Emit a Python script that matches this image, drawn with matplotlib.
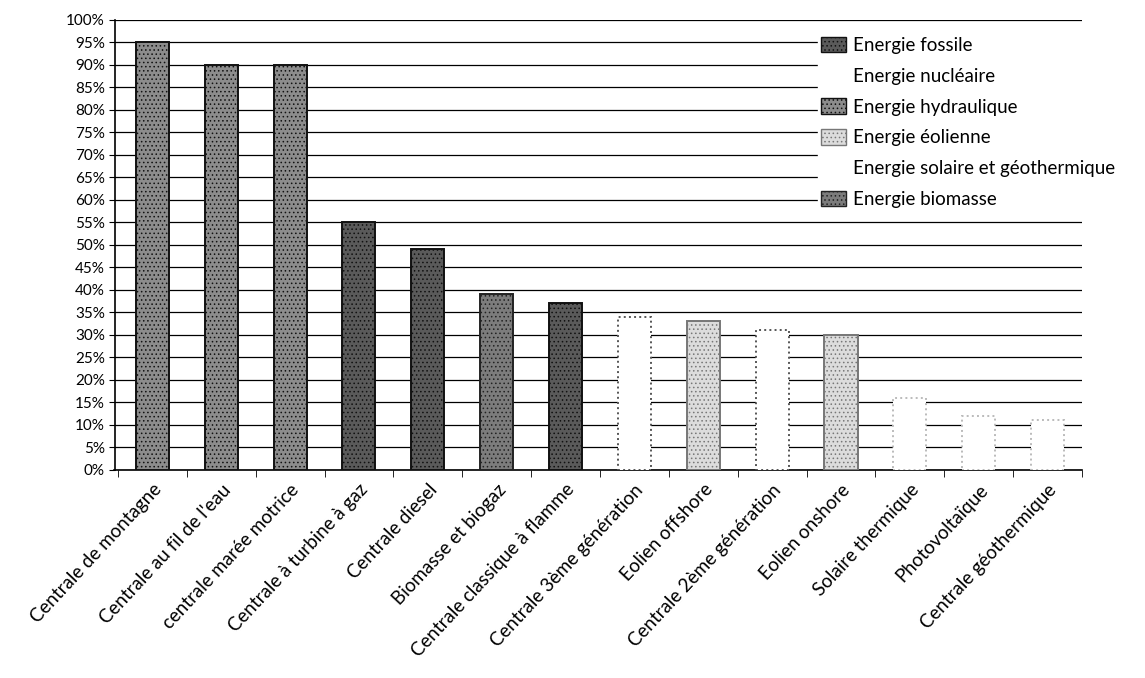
import matplotlib.pyplot as plt
import matplotlib.transforms as mtransforms
import numpy as np
from matplotlib.patches import Patch
from matplotlib.ticker import PercentFormatter

plt.rcParams['font.family'] = ['Lato', 'DejaVu Sans']
plt.rcParams['hatch.linewidth'] = 0.6

categories = [
    "Centrale de montagne", "Centrale au fil de l'eau", "centrale marée motrice",
    "Centrale à turbine à gaz", "Centrale diesel", "Biomasse et biogaz",
    "Centrale classique à flamme", "Centrale 3ème génération", "Eolien offshore",
    "Centrale 2ème génération", "Eolien onshore", "Solaire thermique",
    "Photovoltaïque", "Centrale géothermique",
]
values = [95, 90, 90, 55, 49, 39, 37, 34, 33, 31, 30, 16, 12, 11]
sources = [
    "hydraulique", "hydraulique", "hydraulique", "fossile", "fossile", "biomasse",
    "fossile", "nucleaire", "eolienne", "nucleaire", "eolienne", "solaire",
    "solaire", "solaire",
]

# source -> (label, facecolor, edgecolor, hatch)
styles = {
    "fossile": ("Energie fossile", "#5a5a5a", "#111111", "...."),
    "nucleaire": ("Energie nucléaire", "white", "#555555", None),
    "hydraulique": ("Energie hydraulique", "#8c8c8c", "#111111", "...."),
    "eolienne": ("Energie éolienne", "#dcdcdc", "#777777", "...."),
    "solaire": ("Energie solaire et géothermique", "white", "#bbbbbb", None),
    "biomasse": ("Energie biomasse", "#7c7c7c", "#222222", "...."),
}

fig = plt.figure(figsize=(11.45, 6.78), dpi=100)
ax = fig.add_axes([0.100, 0.307, 0.845, 0.664])

x = np.arange(len(categories))
for xi, v, s in zip(x, values, sources):
    label, fc, ec, hatch = styles[s]
    ls = ":" if s in ("nucleaire", "solaire") else "-"
    ax.bar(xi, v / 100, width=0.48, color=fc, edgecolor=ec, hatch=hatch,
           linewidth=1.4, linestyle=ls, zorder=3)

ax.set_ylim(0, 1.0)
ax.set_xlim(-0.55, len(categories) - 0.5)
ax.set_yticks(np.arange(0, 1.01, 0.05))
ax.yaxis.set_major_formatter(PercentFormatter(1.0, decimals=0))
ax.yaxis.grid(True, color="black", linewidth=0.9, zorder=0)
ax.set_axisbelow(True)

ax.set_xticks(x)
ax.set_xticklabels(categories, rotation=47, ha="right", rotation_mode="anchor")
shift = mtransforms.ScaledTranslation(-0.18, 0, fig.dpi_scale_trans)
for lbl in ax.get_xticklabels():
    lbl.set_transform(lbl.get_transform() + shift)
ax.set_xticks(np.arange(-0.5, len(categories), 1), minor=True)
ax.tick_params(axis="x", which="major", length=0, pad=8, labelsize=13.5)
ax.tick_params(axis="x", which="minor", length=5, direction="out")
ax.tick_params(axis="y", length=4, labelsize=11, pad=3)

for side in ("top", "right"):
    ax.spines[side].set_visible(False)
ax.spines["left"].set_linewidth(1.2)
ax.spines["bottom"].set_linewidth(1.2)

order = ["fossile", "nucleaire", "hydraulique", "eolienne", "solaire", "biomasse"]
handles = []
for s in order:
    label, fc, ec, hatch = styles[s]
    handles.append(Patch(facecolor=fc, edgecolor=ec if fc != "white" else "white",
                         hatch=hatch, label=label))
leg = fig.legend(handles=handles, loc="upper left",
                 bbox_to_anchor=(0.706, 0.965), frameon=True, framealpha=1,
                 edgecolor="white", facecolor="white", fontsize=13.5,
                 handlelength=1.3, handleheight=0.9, handletextpad=0.4,
                 labelspacing=0.72, borderpad=0.2)

fig.savefig("out.png", dpi=100)
